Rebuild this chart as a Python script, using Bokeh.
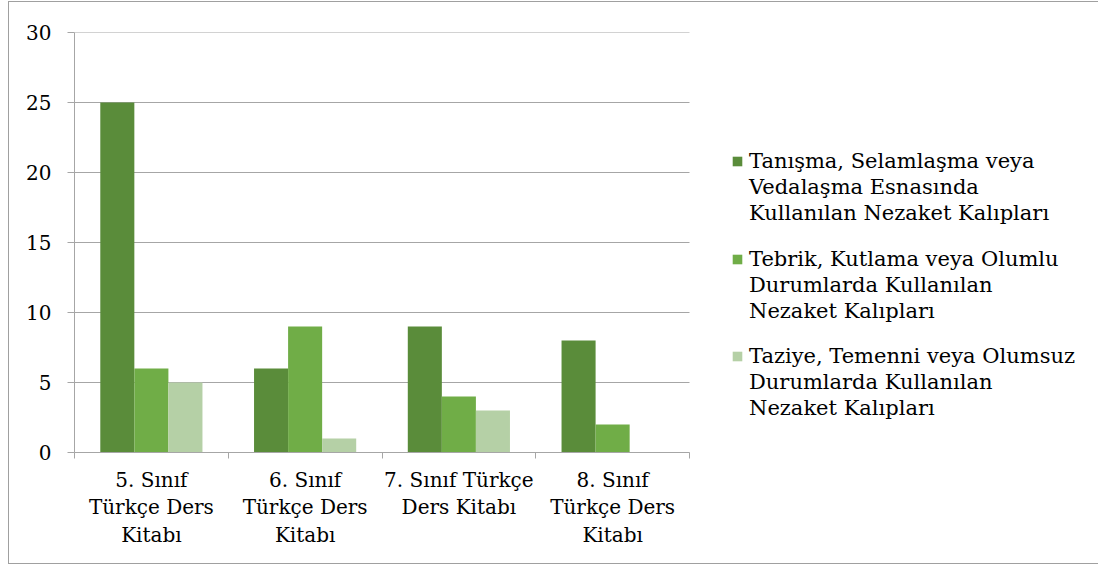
from bokeh.plotting import figure
from bokeh.models import Range1d, FixedTicker, Legend, LegendItem
from bokeh.embed import file_html
from bokeh.resources import INLINE

categories = ["5. Sınıf\nTürkçe Ders\nKitabı", "6. Sınıf\nTürkçe Ders\nKitabı",
              "7. Sınıf Türkçe\nDers Kitabı", "8. Sınıf\nTürkçe Ders\nKitabı"]
series_names = [["Tanışma, Selamlaşma veya", "Vedalaşma Esnasında", "Kullanılan Nezaket Kalıpları"],
                ["Tebrik, Kutlama veya Olumlu", "Durumlarda Kullanılan", "Nezaket Kalıpları"],
                ["Taziye, Temenni veya Olumsuz", "Durumlarda Kullanılan", "Nezaket Kalıpları"]]
s1 = [25, 6, 9, 8]
s2 = [6, 9, 4, 2]
s3 = [5, 1, 3, 0]
y_ticks = [0, 5, 10, 15, 20, 25, 30]
colors = ["#5A8C3A", "#70AD47", "#B5D0A6"]

FONT = "DejaVu Serif"
GRID = "#A6A6A6"
FRAME_W = 1025.0
CAT_W = 615.0 / 4
n = len(categories)

p = figure(width=1090, height=563, x_range=Range1d(0, FRAME_W / CAT_W), y_range=Range1d(0, 30),
           output_backend="svg", toolbar_location=None,
           min_border_left=65, min_border_right=0, min_border_top=30, min_border_bottom=113,
           styles={"margin-left": "8px", "margin-top": "1px",
                   "border-left": "1px solid #A0A0A0", "border-top": "1px solid #A0A0A0",
                   "border-bottom": "1px solid #A0A0A0"})
p.outline_line_color = None

# horizontal gridlines across the category area only
p.segment(x0=[0] * len(y_ticks), x1=[n] * len(y_ticks), y0=y_ticks, y1=y_ticks,
          line_color=GRID, line_width=1)

bw = 34 / 153.5
offsets = [-bw, 0, bw]
renderers = []
for vals, off, col in zip([s1, s2, s3], offsets, colors):
    xs = [i + 0.5 + off for i in range(n)]
    r = p.vbar(x=xs, top=vals, width=bw, fill_color=col, line_color=None)
    renderers.append(r)
blank = p.vbar(x=[], top=[], width=bw, fill_color=None, line_color=None)

xa = p.xaxis[0]
xa.bounds = (0, n)
xa.ticker = FixedTicker(ticks=[i + 0.5 for i in range(n)], minor_ticks=list(range(n + 1)))
xa.major_label_overrides = {i + 0.5: c for i, c in enumerate(categories)}
xa.major_tick_in = 0
xa.major_tick_out = 0
xa.minor_tick_in = 0
xa.minor_tick_out = 6
xa.minor_tick_line_color = GRID
xa.axis_line_color = GRID
xa.major_label_text_font = FONT
xa.major_label_text_font_size = "20px"
xa.major_label_text_color = "black"
xa.major_label_standoff = 9
xa.major_label_text_line_height = 1.16

ya = p.yaxis[0]
ya.ticker = FixedTicker(ticks=y_ticks)
ya.major_tick_in = 0
ya.major_tick_out = 7
ya.major_tick_line_color = GRID
ya.minor_tick_line_color = None
ya.axis_line_color = GRID
ya.major_label_text_font = FONT
ya.major_label_text_font_size = "20px"
ya.major_label_text_color = "black"
ya.major_label_standoff = 16

p.xgrid.visible = False
p.ygrid.visible = False

LEG_X = 657
LEG_BOTTOM0 = 227
LEG_STEP = 97.5
for k, (names, r) in enumerate(zip(series_names, renderers)):
    items = [LegendItem(label=names[0], renderers=[r])] + \
            [LegendItem(label=t, renderers=[blank]) for t in names[1:]]
    lg = Legend(items=items,
                location=(LEG_X, LEG_BOTTOM0 - k * LEG_STEP), padding=0, margin=0, spacing=2,
                glyph_width=12, glyph_height=12, label_standoff=6,
                label_text_font=FONT, label_text_font_size="21px",
                label_text_color="black",
                border_line_color=None, background_fill_alpha=0)
    p.add_layout(lg)

open("out.html", "w").write(file_html(p, INLINE))
